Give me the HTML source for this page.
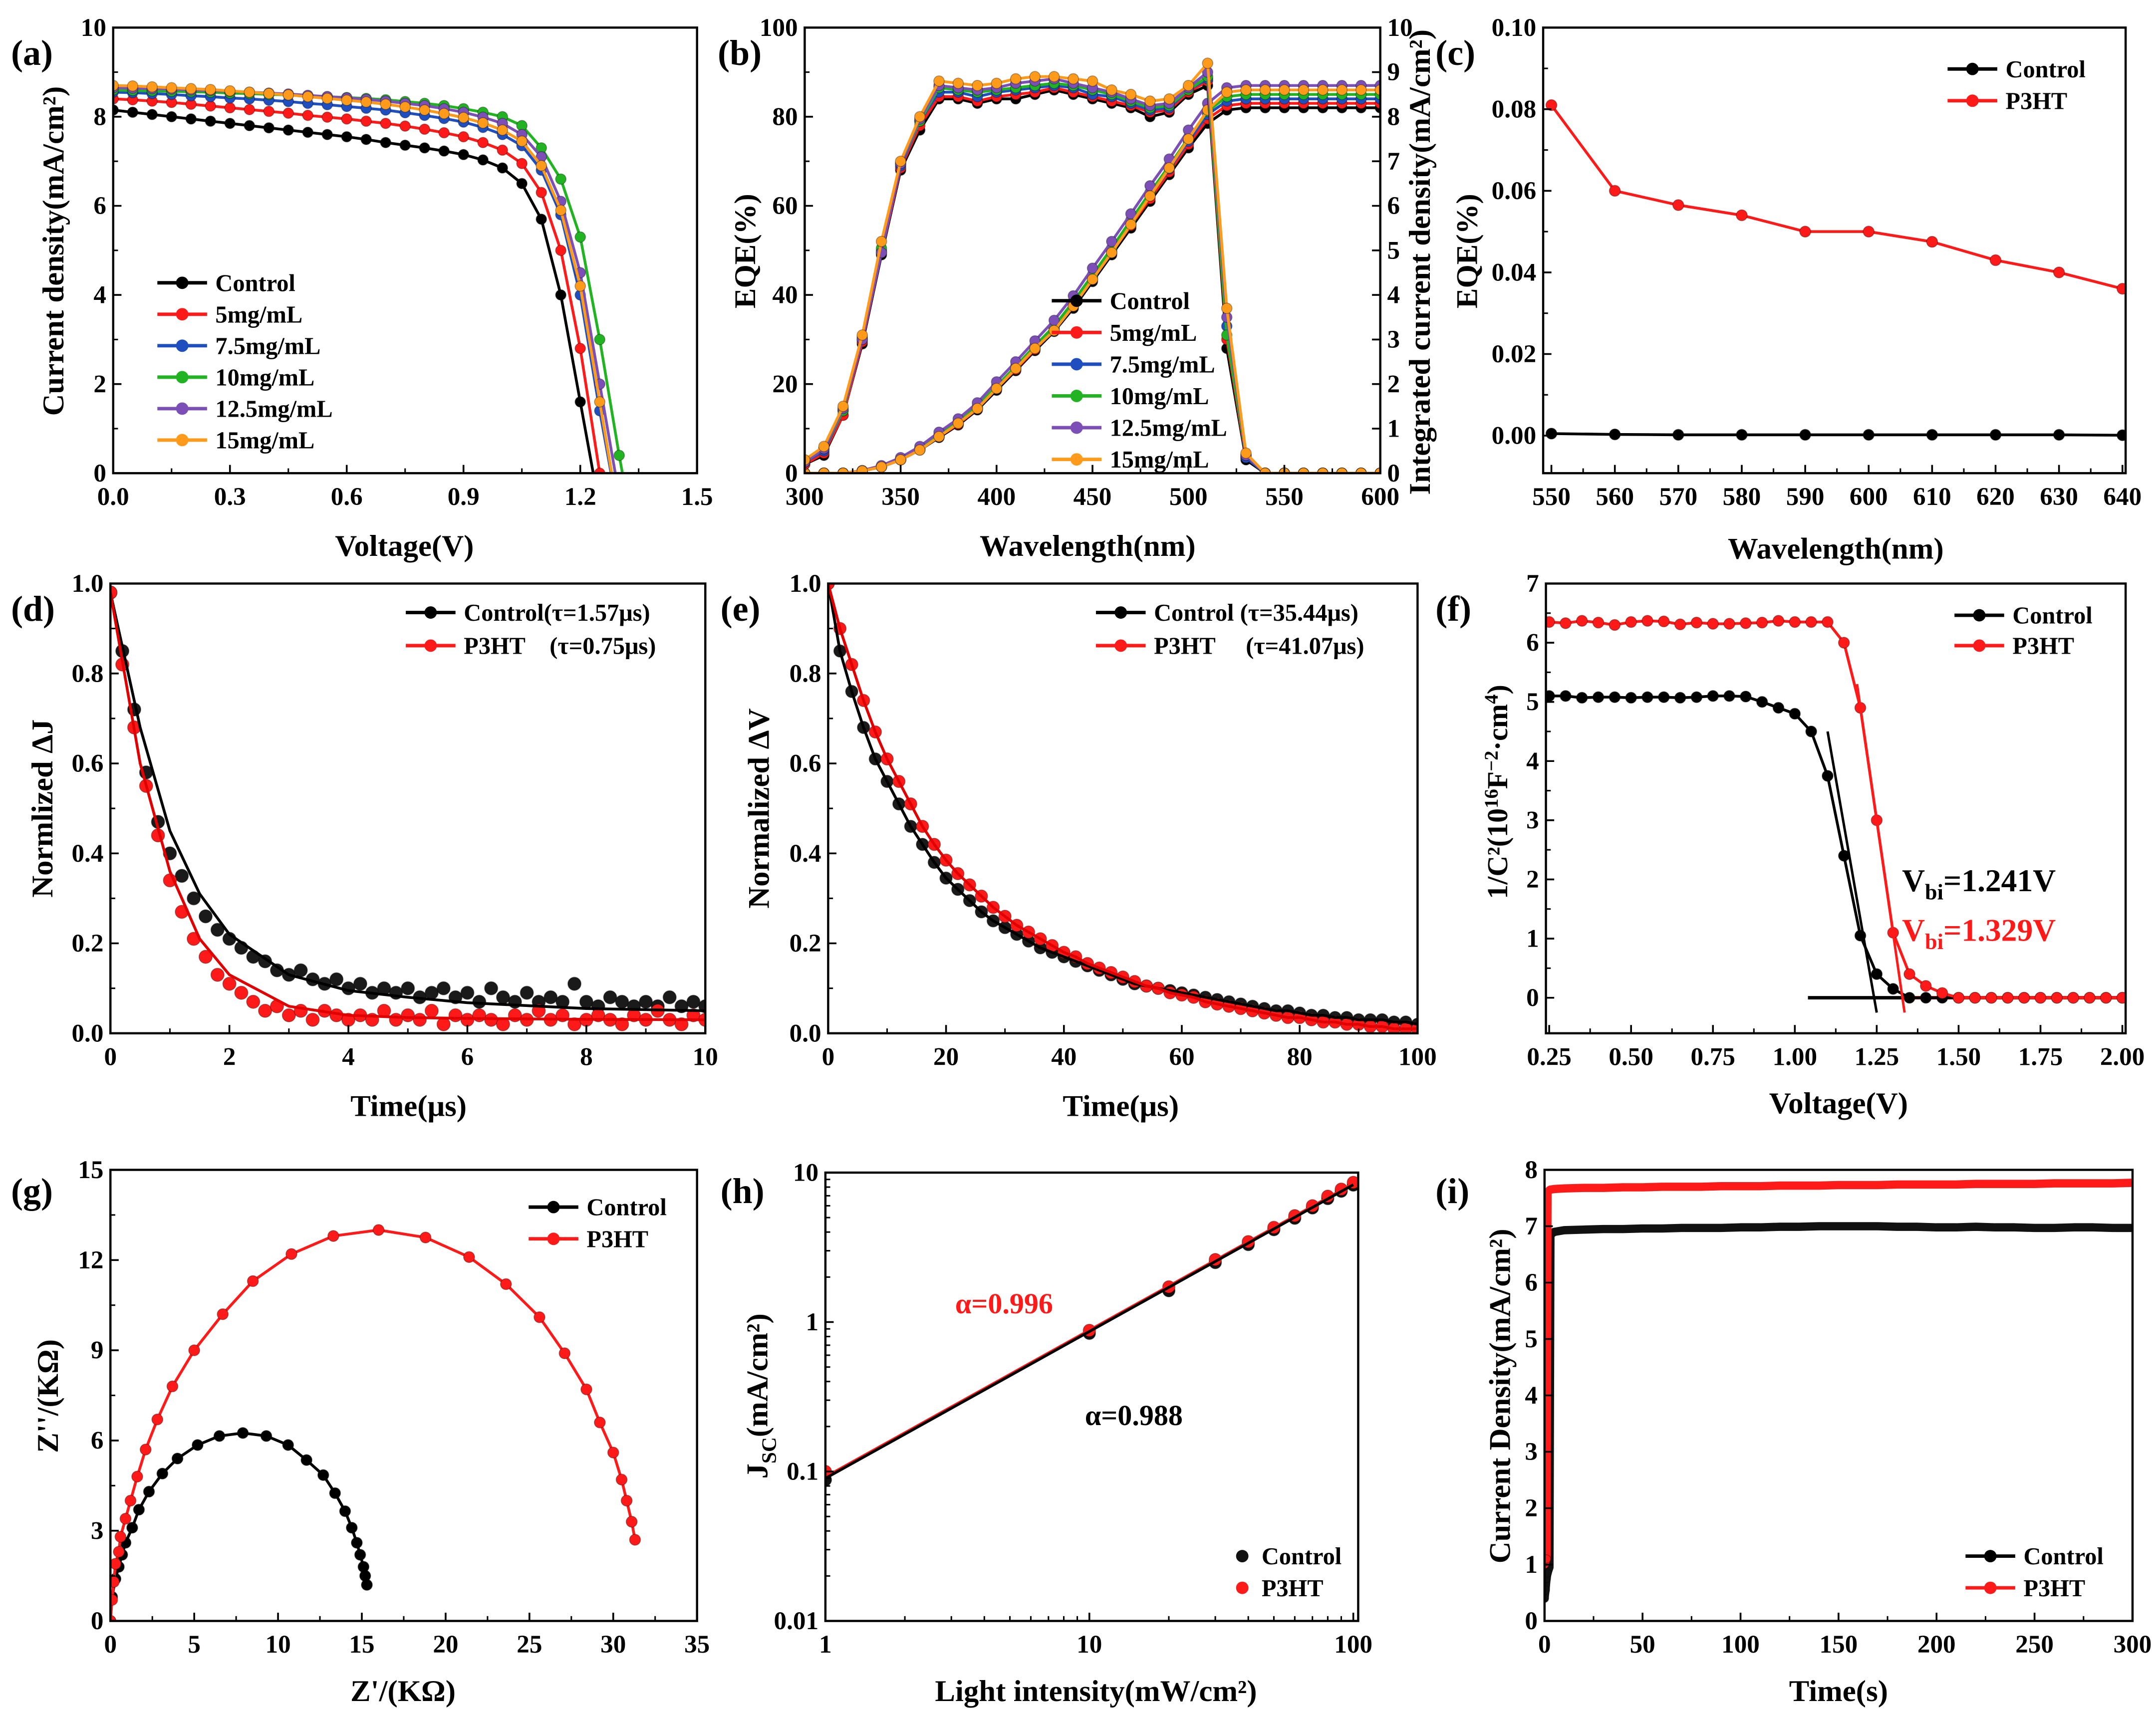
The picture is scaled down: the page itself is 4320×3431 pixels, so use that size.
<!DOCTYPE html>
<html><head><meta charset="utf-8">
<style>
html,body{margin:0;padding:0;background:#fff;}
svg{display:block;}
text{font-family:"Liberation Serif","DejaVu Serif",serif;font-weight:bold;}
</style></head>
<body>
<svg id="fig" xmlns="http://www.w3.org/2000/svg" width="4320" height="3431" viewBox="0 0 1562 1241" preserveAspectRatio="none">
<rect x="0" y="0" width="1562" height="1241" fill="#fff"/>
</svg>
<script>
// ---------- data (a) ----------
const aV=[0,0.05,0.1,0.15,0.2,0.25,0.3,0.35,0.4,0.45,0.5,0.55,0.6,0.65,0.7,0.75,0.8,0.85,0.9,0.95,1.0,1.05,1.1,1.15,1.2,1.25,1.3,1.35];
const aCtrl=[8.15,8.1,8.05,8.0,7.95,7.9,7.85,7.8,7.75,7.7,7.65,7.6,7.55,7.49,7.42,7.36,7.3,7.23,7.15,7.03,6.85,6.5,5.7,4.0,1.6,-0.8,-3,-5];
const a5=[8.4,8.38,8.35,8.32,8.28,8.24,8.2,8.16,8.12,8.08,8.03,7.99,7.95,7.9,7.85,7.79,7.72,7.64,7.55,7.42,7.25,6.95,6.3,5.0,2.8,0,-2,-4];
const a75=[8.55,8.54,8.52,8.5,8.47,8.45,8.42,8.4,8.37,8.34,8.3,8.27,8.23,8.19,8.15,8.09,8.03,7.96,7.88,7.76,7.6,7.35,6.8,5.8,4.0,1.4,-1,-3];
const a10=[8.6,8.59,8.58,8.57,8.56,8.55,8.53,8.52,8.5,8.49,8.47,8.45,8.43,8.41,8.38,8.34,8.3,8.25,8.18,8.1,8.0,7.8,7.3,6.6,5.3,3.0,0.4,-2];
const a125=[8.65,8.64,8.63,8.62,8.6,8.59,8.57,8.55,8.53,8.51,8.48,8.45,8.42,8.39,8.35,8.3,8.25,8.18,8.1,7.99,7.85,7.6,7.1,6.1,4.5,2.0,-0.5,-3];
const a15=[8.7,8.69,8.67,8.65,8.63,8.61,8.58,8.55,8.52,8.49,8.45,8.41,8.37,8.33,8.28,8.22,8.15,8.07,7.98,7.86,7.7,7.45,6.9,5.9,4.2,1.6,-1,-3];
// ---------- data (b) ----------
const bW=[300,310,320,330,340,350,360,370,380,390,400,410,420,430,440,450,460,470,480,490,500,510,520,530,540,550,560,570,580,590,600];
const bE_ctrl=[2,4,13,29,49,68,77,84,84,83,84,84,85,86,85,84,83,82,80,81,85,87,28,3,0,0,0,0,0,0,0];
const bE_5=[2,4.5,13,29.5,49.5,68.5,78,84.5,84.5,83.5,84.5,85,85.5,86.5,85.5,84.5,83.5,82.5,81,81.5,85.5,88,30,3.5,0,0,0,0,0,0,0];
const bE_75=[2.5,5,14,30,50,69,79,85.5,85.5,84.5,85.5,86,86.5,87,86.5,85,84.5,83,81.5,82,86,88.5,33,3.5,0,0,0,0,0,0,0];
const bE_10=[2.5,5.5,14,30.5,50.5,69.5,79,86.5,86,85.5,86,86.5,87,87.5,87,86,85,83.5,82,82.5,86,89,31,4,0,0,0,0,0,0,0];
const bE_125=[2.5,5.5,14.5,30,49.5,69.5,79.5,87,86.5,86,86.5,87.5,88,88.5,87.5,86.5,85.5,84,82.5,83,86.5,90,35,4,0,0,0,0,0,0,0];
const bE_15=[3,6,15,31,52,70,80,88,87.5,87,87.5,88.5,89,89,88.5,88,86,85,83.5,84,87,92,37,4.5,0,0,0,0,0,0,0];
const bI_ctrl=[0,0,0,0.05,0.14,0.3,0.52,0.8,1.08,1.42,1.86,2.3,2.75,3.18,3.7,4.3,4.9,5.5,6.1,6.7,7.3,7.85,8.15,8.2,8.2,8.2,8.2,8.2,8.2,8.2,8.2];
const bI_5=[0,0,0,0.05,0.14,0.3,0.53,0.82,1.1,1.45,1.9,2.33,2.78,3.22,3.75,4.35,4.95,5.56,6.16,6.76,7.38,7.95,8.25,8.3,8.3,8.3,8.3,8.3,8.3,8.3,8.3];
const bI_75=[0,0,0,0.05,0.15,0.31,0.54,0.83,1.12,1.47,1.92,2.36,2.82,3.26,3.8,4.4,5.0,5.62,6.22,6.83,7.45,8.05,8.35,8.4,8.4,8.4,8.4,8.4,8.4,8.4,8.4];
const bI_10=[0,0,0,0.05,0.15,0.32,0.55,0.85,1.15,1.5,1.95,2.4,2.86,3.3,3.85,4.45,5.05,5.68,6.3,6.9,7.52,8.12,8.45,8.5,8.5,8.5,8.5,8.5,8.5,8.5,8.5];
const bI_125=[0,0,0,0.06,0.17,0.35,0.6,0.92,1.22,1.58,2.05,2.5,2.97,3.43,3.98,4.6,5.2,5.82,6.45,7.05,7.7,8.3,8.65,8.7,8.7,8.7,8.7,8.7,8.7,8.7,8.7];
const bI_15=[0,0,0,0.05,0.14,0.3,0.52,0.82,1.12,1.45,1.9,2.35,2.8,3.2,3.75,4.35,4.95,5.58,6.22,6.85,7.5,8.15,8.55,8.6,8.6,8.6,8.6,8.6,8.6,8.6,8.6];
// ---------- data (c) ----------
const cW=[550,560,570,580,590,600,610,620,630,640];
const cCtrl=[0.0005,0.0003,0.0002,0.0002,0.0002,0.0002,0.0002,0.0002,0.0002,0.0001];
const cP3HT=[0.081,0.060,0.0565,0.054,0.050,0.050,0.0475,0.043,0.040,0.036];
// ---------- data (d) ----------
const dT=[0,0.2,0.4,0.6,0.8,1.0,1.2,1.4,1.6,1.8,2.0,2.2,2.4,2.6,2.8,3.0,3.2,3.4,3.6,3.8,4.0,4.2,4.4,4.6,4.8,5.0,5.2,5.4,5.6,5.8,6.0,6.2,6.4,6.6,6.8,7.0,7.2,7.4,7.6,7.8,8.0,8.2,8.4,8.6,8.8,9.0,9.2,9.4,9.6,9.8,10.0];
const dCtrl=[0.98,0.85,0.72,0.58,0.47,0.40,0.35,0.30,0.26,0.23,0.21,0.19,0.17,0.16,0.14,0.13,0.14,0.12,0.11,0.12,0.10,0.11,0.09,0.10,0.09,0.10,0.08,0.09,0.10,0.08,0.09,0.07,0.10,0.08,0.07,0.09,0.07,0.08,0.07,0.11,0.07,0.06,0.08,0.07,0.06,0.07,0.06,0.08,0.06,0.07,0.06];
const dP3HT=[0.98,0.82,0.68,0.55,0.44,0.34,0.27,0.21,0.17,0.13,0.11,0.09,0.07,0.05,0.06,0.04,0.05,0.03,0.05,0.04,0.03,0.04,0.03,0.05,0.03,0.04,0.03,0.05,0.02,0.04,0.03,0.04,0.03,0.02,0.04,0.03,0.05,0.03,0.04,0.02,0.03,0.04,0.03,0.02,0.04,0.03,0.05,0.03,0.02,0.04,0.03];
const dFitT=[0,0.5,1,1.5,2,3,4,5,6,8,10];
const dFitC=[0.98,0.68,0.45,0.31,0.22,0.13,0.095,0.08,0.068,0.055,0.05];
const dFitP=[0.98,0.6,0.36,0.21,0.13,0.06,0.04,0.035,0.033,0.031,0.03];
// ---------- data (e) ----------
const eT=[0,2,4,6,8,10,12,14,16,18,20,22,24,26,28,30,32,34,36,38,40,42,44,46,48,50,52,54,56,58,60,62,64,66,68,70,72,74,76,78,80,82,84,86,88,90,92,94,96,98,100];
const eCtrl=[1.0,0.85,0.76,0.68,0.61,0.56,0.51,0.46,0.42,0.38,0.345,0.32,0.295,0.27,0.25,0.235,0.22,0.205,0.19,0.18,0.17,0.16,0.15,0.14,0.13,0.12,0.11,0.105,0.1,0.095,0.09,0.085,0.08,0.075,0.07,0.065,0.06,0.055,0.05,0.05,0.045,0.04,0.04,0.035,0.035,0.03,0.03,0.03,0.025,0.025,0.02];
const eP3HT=[1.0,0.9,0.82,0.74,0.67,0.61,0.56,0.51,0.46,0.42,0.385,0.355,0.33,0.305,0.28,0.26,0.24,0.225,0.21,0.195,0.18,0.17,0.155,0.145,0.135,0.125,0.115,0.105,0.1,0.09,0.085,0.08,0.07,0.065,0.06,0.055,0.05,0.045,0.04,0.035,0.035,0.03,0.025,0.025,0.02,0.02,0.015,0.015,0.01,0.01,0.01];
// ---------- data (f) ----------
const fV=[0.25,0.3,0.35,0.4,0.45,0.5,0.55,0.6,0.65,0.7,0.75,0.8,0.85,0.9,0.95,1.0,1.05,1.1,1.15,1.2,1.25,1.3,1.35,1.4,1.45,1.5,1.55,1.6,1.65,1.7,1.75,1.8,1.85,1.9,1.95,2.0];
const fCtrl=[5.1,5.1,5.07,5.08,5.08,5.07,5.08,5.08,5.07,5.08,5.1,5.1,5.09,5.0,4.9,4.8,4.5,3.75,2.4,1.05,0.4,0.15,0,0,0,0,0,0,0,0,0,0,0,0,0,0];
const fP3HT=[6.35,6.33,6.37,6.34,6.3,6.35,6.37,6.36,6.31,6.34,6.32,6.32,6.33,6.34,6.37,6.35,6.35,6.35,6.0,4.9,3.0,1.1,0.4,0.2,0.08,0,0,0,0,0,0,0,0,0,0,0];
const fFitCx=[1.1,1.25], fFitCy=[4.5,-0.25];
const fFitPx=[1.19,1.335], fFitPy=[5.3,-0.25];
const fBaseCx=[1.04,2.0], fBasePx=[1.33,2.0], fBaseY=[0,0];
// ---------- data (g) ----------
const gCx=[0,0.1,0.3,0.5,0.7,0.9,1.3,1.7,2.3,3.1,4.0,5.2,6.5,7.9,9.3,10.6,11.7,12.7,13.4,14.0,14.4,14.7,14.9,15.1,15.2,15.3];
const gCy=[0,0.8,1.4,1.8,2.2,2.6,3.1,3.7,4.3,4.9,5.4,5.85,6.15,6.25,6.15,5.85,5.35,4.85,4.25,3.65,3.1,2.6,2.2,1.8,1.5,1.2];
const gPx=[0,0.1,0.2,0.3,0.5,0.6,0.9,1.2,1.6,2.1,2.8,3.7,5.0,6.7,8.5,10.8,13.3,16.0,18.8,21.4,23.6,25.6,27.1,28.4,29.2,30.0,30.5,30.8,31.1,31.3];
const gPy=[0,0.7,1.3,1.9,2.3,2.8,3.4,4.0,4.8,5.7,6.7,7.8,9.0,10.2,11.3,12.2,12.8,13.0,12.75,12.1,11.2,10.1,8.9,7.7,6.6,5.6,4.7,4.0,3.3,2.7];
// ---------- data (h) ----------
const hI=[1,10,20,30,40,50,60,70,80,90,100];
const hCtrl=[0.088,0.84,1.62,2.5,3.3,4.15,4.95,5.8,6.7,7.5,8.25];
const hP3HT=[0.1,0.88,1.72,2.62,3.45,4.3,5.15,6.0,6.95,7.75,8.6];
const hFitX=[1,100];
const hFitC=[0.09,8.3];
const hFitP=[0.092,8.45];
// ---------- data (i) ----------
const iT=[0,0.5,1,1.5,2,2.5,3,5,10,20,30,40,50,60,70,80,90,100,110,120,130,140,150,160,170,180,190,200,210,220,230,240,250,260,270,280,290,300];
const iCtrl=[0.4,0.55,0.75,0.85,0.9,0.95,6.85,6.9,6.93,6.94,6.95,6.95,6.96,6.96,6.97,6.97,6.97,6.98,6.98,6.99,6.99,7.0,7.0,7.0,7.0,6.99,6.99,6.98,6.98,6.99,6.98,6.98,6.97,6.97,6.98,6.98,6.97,6.97];
const iP3HT=[1.0,1.05,1.1,7.6,7.62,7.64,7.65,7.66,7.67,7.68,7.68,7.69,7.69,7.70,7.70,7.70,7.71,7.71,7.71,7.72,7.72,7.72,7.73,7.73,7.73,7.74,7.74,7.74,7.74,7.75,7.75,7.75,7.75,7.76,7.76,7.76,7.76,7.77];

const NS='http://www.w3.org/2000/svg';
const svg=document.getElementById('fig');
function mk(tag,attrs,name,parent){
  const e=document.createElementNS(NS,tag);
  for(const k in attrs) e.setAttribute(k,attrs[k]);
  
  
  (parent||svg).appendChild(e);
  return e;
}
function txt(x,y,s,size,opts,name,parent){
  opts=opts||{};
  const a={x:x,y:y,'font-size':size,fill:opts.fill||'#000'};
  if(opts.anchor) a['text-anchor']=opts.anchor;
  if(opts.rot!==undefined) a.transform='rotate('+opts.rot+' '+x+' '+y+')';
  const t=mk('text',a,name,parent);
  if(opts.html) t.innerHTML=s; else t.textContent=s;
  return t;
}
let clipId=0;
function panel(o){
  const g=mk('g',{},o.name);
  const lx0=o.xlog?Math.log10(o.xmin):o.xmin, lx1=o.xlog?Math.log10(o.xmax):o.xmax;
  const ly0=o.ylog?Math.log10(o.ymin):o.ymin, ly1=o.ylog?Math.log10(o.ymax):o.ymax;
  const p={g:g,o:o};
  p.sx=v=>o.x0+((o.xlog?Math.log10(v):v)-lx0)/(lx1-lx0)*(o.x1-o.x0);
  p.sy=v=>o.y0-((o.ylog?Math.log10(v):v)-ly0)/(ly1-ly0)*(o.y0-o.y1);
  const id='clip'+(clipId++);
  const cp=mk('clipPath',{id:id},'plot-clip',g);
  mk('rect',{x:o.x0,y:o.y1,width:o.x1-o.x0,height:o.y0-o.y1},'clip-rect',cp);
  p.data=mk('g',{'clip-path':'url(#'+id+')'},'plot-data',g);
  o.xt.forEach((v,i)=>{
    const X=p.sx(v);
    mk('line',{x1:X,x2:X,y1:o.y0,y2:o.y0-6,stroke:'#000','stroke-width':1.3},'x-tick',g);
    txt(X,o.y0+23,o.xl[i],18.5,{anchor:'middle'},'x-tick-label',g);
  });
  (o.xm||[]).forEach(v=>{const X=p.sx(v);mk('line',{x1:X,x2:X,y1:o.y0,y2:o.y0-3.5,stroke:'#000','stroke-width':1.1},'x-minor-tick',g);});
  o.yt.forEach((v,i)=>{
    const Y=p.sy(v);
    mk('line',{x1:o.x0,x2:o.x0+6,y1:Y,y2:Y,stroke:'#000','stroke-width':1.3},'y-tick',g);
    txt(o.x0-5,Y+6,o.yl[i],18.5,{anchor:'end'},'y-tick-label',g);
  });
  (o.ym||[]).forEach(v=>{const Y=p.sy(v);mk('line',{x1:o.x0,x2:o.x0+3.5,y1:Y,y2:Y,stroke:'#000','stroke-width':1.1},'y-minor-tick',g);});
  mk('rect',{x:o.x0,y:o.y1,width:o.x1-o.x0,height:o.y0-o.y1,fill:'none',stroke:'#000','stroke-width':1.6},'plot-frame',g);
  return p;
}
function line(p,xs,ys,color,w,name,sx,sy){
  sx=sx||p.sx; sy=sy||p.sy;
  let d='';
  xs.forEach((x,i)=>{d+=(i?'L':'M')+sx(x).toFixed(2)+','+sy(ys[i]).toFixed(2);});
  return mk('path',{d:d,fill:'none',stroke:color,'stroke-width':w,'stroke-linejoin':'round'},name,p.data);
}
function dots(p,xs,ys,color,r,name,sy){
  sy=sy||p.sy;
  xs.forEach((x,i)=>{
    mk('circle',{cx:p.sx(x),cy:sy(ys[i]),r:r,fill:color,stroke:'#00000055','stroke-width':0.6},name,p.data);
  });
}
function legend(g,x,y,color,label,name,noLine,html){
  if(!noLine) mk('line',{x1:x,x2:x+36,y1:y,y2:y,stroke:color,'stroke-width':2.5},name+'-line',g);
  mk('circle',{cx:x+18,cy:y,r:4.5,fill:color},name+'-marker',g);
  return txt(x+42,y+6,label,17.5,{html:html},name+'-label',g);
}

// ===== (a) =====
(function(){
  const p=panel({name:'panel-a',x0:82,x1:505,y0:343,y1:20,xmin:0,xmax:1.5,ymin:0,ymax:10,
    xt:[0,0.3,0.6,0.9,1.2,1.5],xl:['0.0','0.3','0.6','0.9','1.2','1.5'],xm:[0.15,0.45,0.75,1.05,1.35],
    yt:[0,2,4,6,8,10],yl:['0','2','4','6','8','10'],ym:[1,3,5,7,9]});
  const S=[[aCtrl,'#000','control'],[a5,'#ff1a1a','5mg'],[a75,'#1f4fbf','7-5mg'],[a10,'#22b322','10mg'],[a125,'#7b4fb5','12-5mg'],[a15,'#ff9a1a','15mg']];
  S.forEach(s=>{line(p,aV,s[0],s[1],2,'jv-line-'+s[2]);dots(p,aV,s[0],s[1],3.8,'jv-point-'+s[2]);});
  txt(8,47,'(a)',26,{},'panel-label-a');
  txt(293,403,'Voltage(V)',22,{anchor:'middle'},'x-axis-title-a');
  txt(46,182,'Current density(mA/cm²)',22,{anchor:'middle',rot:-90},'y-axis-title-a');
  const L=['Control','5mg/mL','7.5mg/mL','10mg/mL','12.5mg/mL','15mg/mL'];
  S.forEach((s,i)=>legend(p.g,114,205+i*22.8,s[1],L[i],'legend-a-'+s[2]));
})();
// ===== (b) =====
(function(){
  const p=panel({name:'panel-b',x0:583,x1:1000,y0:343,y1:20,xmin:300,xmax:600,ymin:0,ymax:100,
    xt:[300,350,400,450,500,550,600],xl:['300','350','400','450','500','550','600'],xm:[325,375,425,475,525,575],
    yt:[0,20,40,60,80,100],yl:['0','20','40','60','80','100'],ym:[10,30,50,70,90]});
  const sy2=v=>343-v/10*323;
  [0,1,2,3,4,5,6,7,8,9,10].forEach(v=>{
    const Y=sy2(v);
    mk('line',{x1:1000,x2:994,y1:Y,y2:Y,stroke:'#000','stroke-width':1.3},'right-y-tick',p.g);
    txt(1005,Y+6,String(v),18.5,{},'right-y-tick-label',p.g);
  });
  const E=[[bE_ctrl,bI_ctrl,'#000','control'],[bE_5,bI_5,'#ff1a1a','5mg'],[bE_75,bI_75,'#1f4fbf','7-5mg'],[bE_10,bI_10,'#22b322','10mg'],[bE_125,bI_125,'#7b4fb5','12-5mg'],[bE_15,bI_15,'#ff9a1a','15mg']];
  E.forEach(s=>{
    line(p,bW,s[1],s[2],2,'integrated-line-'+s[3],null,sy2);
    dots(p,bW,s[1],s[2],3.8,'integrated-point-'+s[3],sy2);
  });
  E.forEach(s=>{line(p,bW,s[0],s[2],2,'eqe-line-'+s[3]);dots(p,bW,s[0],s[2],3.8,'eqe-point-'+s[3]);});
  txt(520,47,'(b)',26,{},'panel-label-b');
  txt(788,403,'Wavelength(nm)',22,{anchor:'middle'},'x-axis-title-b');
  txt(547,182,'EQE(%)',22,{anchor:'middle',rot:-90},'y-axis-title-b');
  txt(1036,190,'Integrated current density(mA/cm²)',22,{anchor:'middle',rot:-90},'right-y-axis-title-b');
  const L=['Control','5mg/mL','7.5mg/mL','10mg/mL','12.5mg/mL','15mg/mL'];
  E.forEach((s,i)=>legend(p.g,762,218+i*23,s[2],L[i],'legend-b-'+s[3]));
})();
// ===== (c) =====
(function(){
  const p=panel({name:'panel-c',x0:1118,x1:1540,y0:343,y1:20,xmin:548.7,xmax:640.5,ymin:-0.0092,ymax:0.1,
    xt:[550,560,570,580,590,600,610,620,630,640],xl:['550','560','570','580','590','600','610','620','630','640'],xm:[555,565,575,585,595,605,615,625,635],
    yt:[0,0.02,0.04,0.06,0.08,0.1],yl:['0.00','0.02','0.04','0.06','0.08','0.10'],ym:[0.01,0.03,0.05,0.07,0.09]});
  line(p,cW,cCtrl,'#000',2,'eqe-line-control');dots(p,cW,cCtrl,'#000',4,'eqe-point-control');
  line(p,cW,cP3HT,'#ff1a1a',2,'eqe-line-p3ht');dots(p,cW,cP3HT,'#ff1a1a',4,'eqe-point-p3ht');
  txt(1040,47,'(c)',26,{},'panel-label-c');
  txt(1330,405,'Wavelength(nm)',22,{anchor:'middle'},'x-axis-title-c');
  txt(1070,182,'EQE(%)',22,{anchor:'middle',rot:-90},'y-axis-title-c');
  legend(p.g,1411,50,'#000','Control','legend-c-control');
  legend(p.g,1411,73,'#ff1a1a','P3HT','legend-c-p3ht');
})();
// ===== (d) =====
(function(){
  const p=panel({name:'panel-d',x0:80,x1:511,y0:749,y1:423,xmin:0,xmax:10,ymin:0,ymax:1,
    xt:[0,2,4,6,8,10],xl:['0','2','4','6','8','10'],xm:[1,3,5,7,9],
    yt:[0,0.2,0.4,0.6,0.8,1.0],yl:['0.0','0.2','0.4','0.6','0.8','1.0'],ym:[0.1,0.3,0.5,0.7,0.9]});
  dots(p,dT,dCtrl,'#1a1a1a',4.8,'decay-point-control');
  dots(p,dT,dP3HT,'#ff1a1a',4.8,'decay-point-p3ht');
  line(p,dFitT,dFitC,'#000',2,'fit-line-control');
  line(p,dFitT,dFitP,'#e00000',2,'fit-line-p3ht');
  txt(8,450,'(d)',26,{},'panel-label-d');
  txt(296,809,'Time(μs)',22,{anchor:'middle'},'x-axis-title-d');
  txt(38,586,'Normlized ΔJ',22,{anchor:'middle',rot:-90},'y-axis-title-d');
  legend(p.g,294,444,'#000','Control(τ=1.57μs)','legend-d-control');
  legend(p.g,294,468,'#ff1a1a','P3HT&#160;&#160;&#160;&#160;(τ=0.75μs)','legend-d-p3ht',false,true);
})();
// ===== (e) =====
(function(){
  const p=panel({name:'panel-e',x0:600,x1:1027,y0:749,y1:423,xmin:0,xmax:100,ymin:0,ymax:1,
    xt:[0,20,40,60,80,100],xl:['0','20','40','60','80','100'],xm:[10,30,50,70,90],
    yt:[0,0.2,0.4,0.6,0.8,1.0],yl:['0.0','0.2','0.4','0.6','0.8','1.0'],ym:[0.1,0.3,0.5,0.7,0.9]});
  dots(p,eT,eCtrl,'#1a1a1a',4.5,'decay-point-control');
  dots(p,eT,eP3HT,'#ff1a1a',4.5,'decay-point-p3ht');
  line(p,eT,eCtrl,'#000',2,'fit-line-control');
  line(p,eT,eP3HT,'#e00000',2,'fit-line-p3ht');
  txt(522,450,'(e)',26,{},'panel-label-e');
  txt(812,809,'Time(μs)',22,{anchor:'middle'},'x-axis-title-e');
  txt(557,586,'Normalized ΔV',22,{anchor:'middle',rot:-90},'y-axis-title-e');
  legend(p.g,794,444,'#000','Control (τ=35.44μs)','legend-e-control');
  legend(p.g,794,468,'#ff1a1a','P3HT&#160;&#160;&#160;&#160;&#160;(τ=41.07μs)','legend-e-p3ht',false,true);
})();
// ===== (f) =====
(function(){
  const p=panel({name:'panel-f',x0:1120,x1:1540,y0:749,y1:423,xmin:0.24,xmax:2.01,ymin:-0.6,ymax:7,
    xt:[0.25,0.5,0.75,1.0,1.25,1.5,1.75,2.0],xl:['0.25','0.50','0.75','1.00','1.25','1.50','1.75','2.00'],xm:[0.375,0.625,0.875,1.125,1.375,1.625,1.875],
    yt:[0,1,2,3,4,5,6,7],yl:['0','1','2','3','4','5','6','7'],ym:[0.5,1.5,2.5,3.5,4.5,5.5,6.5]});
  line(p,fBaseCx,fBaseY,'#000',2.5,'baseline-control');
  line(p,fBasePx,fBaseY,'#ff1a1a',2.5,'baseline-p3ht');
  line(p,fV,fCtrl,'#000',2,'mott-line-control');dots(p,fV,fCtrl,'#000',4,'mott-point-control');
  line(p,fV,fP3HT,'#ff1a1a',2,'mott-line-p3ht');dots(p,fV,fP3HT,'#ff1a1a',4,'mott-point-p3ht');
  line(p,fFitCx,fFitCy,'#000',1.8,'fit-line-control');
  line(p,fFitPx,fFitPy,'#ff1a1a',1.8,'fit-line-p3ht');
  txt(1040,450,'(f)',26,{},'panel-label-f');
  txt(1332,807,'Voltage(V)',22,{anchor:'middle'},'x-axis-title-f');
  txt(1092,574,'1/C²(10<tspan dy="-7" font-size="14">16</tspan><tspan dy="7">F</tspan><tspan dy="-7" font-size="14">−2</tspan><tspan dy="7">·cm</tspan><tspan dy="-7" font-size="14">4</tspan><tspan dy="7">)</tspan>',21,{anchor:'middle',rot:-90,html:true},'y-axis-title-f');
  txt(1378,646,'V<tspan dy="6" font-size="16">bi</tspan><tspan dy="-6">=1.241V</tspan>',23,{html:true},'annotation-vbi-control');
  txt(1378,682,'V<tspan dy="6" font-size="16">bi</tspan><tspan dy="-6">=1.329V</tspan>',23,{html:true,fill:'#ff1a1a'},'annotation-vbi-p3ht');
  legend(p.g,1416,446,'#000','Control','legend-f-control');
  legend(p.g,1416,468,'#ff1a1a','P3HT','legend-f-p3ht');
})();
// ===== (g) =====
(function(){
  const p=panel({name:'panel-g',x0:80,x1:505,y0:1175,y1:848,xmin:0,xmax:35,ymin:0,ymax:15,
    xt:[0,5,10,15,20,25,30,35],xl:['0','5','10','15','20','25','30','35'],xm:[2.5,7.5,12.5,17.5,22.5,27.5,32.5],
    yt:[0,3,6,9,12,15],yl:['0','3','6','9','12','15'],ym:[1.5,4.5,7.5,10.5,13.5]});
  line(p,gCx,gCy,'#000',2,'nyquist-line-control');dots(p,gCx,gCy,'#000',4,'nyquist-point-control');
  line(p,gPx,gPy,'#ff1a1a',2,'nyquist-line-p3ht');dots(p,gPx,gPy,'#ff1a1a',4,'nyquist-point-p3ht');
  txt(8,872,'(g)',26,{},'panel-label-g');
  txt(292,1233,"Z'/(KΩ)",22,{anchor:'middle'},'x-axis-title-g');
  txt(42,1012,"Z''/(KΩ)",22,{anchor:'middle',rot:-90},'y-axis-title-g');
  legend(p.g,383,875,'#000','Control','legend-g-control');
  legend(p.g,383,898,'#ff1a1a','P3HT','legend-g-p3ht');
})();
// ===== (h) =====
(function(){
  const xm=[],ym=[];
  [1,10].forEach(d=>{for(let k=2;k<=9;k++)xm.push(d*k);});
  [0.01,0.1,1].forEach(d=>{for(let k=2;k<=9;k++)ym.push(d*k);});
  const p=panel({name:'panel-h',x0:598,x1:984,y0:1175,y1:850,xmin:1,xmax:Math.pow(10,2.0185),xlog:true,ymin:0.01,ymax:10,ylog:true,
    xt:[1,10,100],xl:['1','10','100'],xm:xm,
    yt:[0.01,0.1,1,10],yl:['0.01','0.1','1','10'],ym:ym});
  dots(p,hI,hCtrl,'#111',4.5,'jsc-point-control');
  dots(p,hI,hP3HT,'#ff1a1a',4.5,'jsc-point-p3ht');
  line(p,hFitX,hFitP,'#ff1a1a',2,'fit-line-p3ht');
  line(p,hFitX,hFitC,'#000',2,'fit-line-control');
  txt(522,872,'(h)',26,{},'panel-label-h');
  txt(794,1233,'Light intensity(mW/cm²)',22,{anchor:'middle'},'x-axis-title-h');
  txt(556,1012,'J<tspan dy="6" font-size="15">SC</tspan><tspan dy="-6">(mA/cm²)</tspan>',22,{anchor:'middle',rot:-90,html:true},'y-axis-title-h');
  txt(692,952,'α=0.996',21,{fill:'#ff1a1a'},'annotation-alpha-p3ht');
  txt(786,1033,'α=0.988',21,{},'annotation-alpha-control');
  mk('circle',{cx:900,cy:1128,r:4.5,fill:'#111'},'legend-h-control-marker',p.g);
  txt(914,1134,'Control',17.5,{},'legend-h-control-label',p.g);
  mk('circle',{cx:900,cy:1151,r:4.5,fill:'#ff1a1a'},'legend-h-p3ht-marker',p.g);
  txt(914,1157,'P3HT',17.5,{},'legend-h-p3ht-label',p.g);
})();
// ===== (i) =====
(function(){
  const p=panel({name:'panel-i',x0:1119,x1:1545,y0:1175,y1:848,xmin:0,xmax:300,ymin:0,ymax:8,
    xt:[0,50,100,150,200,250,300],xl:['0','50','100','150','200','250','300'],xm:[25,75,125,175,225,275],
    yt:[0,1,2,3,4,5,6,7,8],yl:['0','1','2','3','4','5','6','7','8'],ym:[]});
  line(p,iT,iCtrl,'#111',6,'stability-line-control');
  line(p,iT,iP3HT,'#ff1a1a',6,'stability-line-p3ht');
  dots(p,iT.slice(0,4),iCtrl.slice(0,4),'#111',3,'stability-point-control');
  dots(p,iT.slice(0,3),iP3HT.slice(0,3),'#ff1a1a',3,'stability-point-p3ht');
  txt(1040,872,'(i)',26,{},'panel-label-i');
  txt(1332,1233,'Time(s)',22,{anchor:'middle'},'x-axis-title-i');
  txt(1094,1012,'Current Density(mA/cm²)',22,{anchor:'middle',rot:-90},'y-axis-title-i');
  legend(p.g,1424,1128,'#000','Control','legend-i-control');
  legend(p.g,1424,1151,'#ff1a1a','P3HT','legend-i-p3ht');
})();
</script>
</body></html>
